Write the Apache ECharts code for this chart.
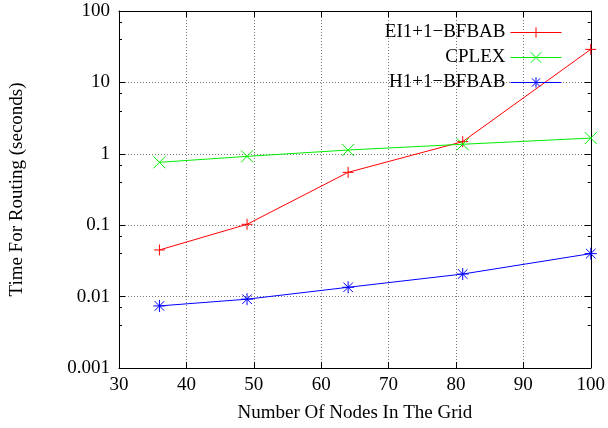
<!DOCTYPE html>
<html><head><meta charset="utf-8">
<script src="https://cdn.jsdelivr.net/npm/echarts@6/dist/echarts.min.js"></script>
<style>html,body{margin:0;padding:0;background:#fff}#c{width:608px;height:428px}</style>
</head><body><div id="c"></div>
<script>
const nodes = [36, 49, 64, 81, 100];
const ei11 = [0.045, 0.103, 0.55, 1.48, 29];
const cplex = [0.76, 0.92, 1.13, 1.36, 1.66];
const h11 = [0.0074, 0.0092, 0.0135, 0.0207, 0.040];
const seriesNames = ['EI1+1\u2212BFBAB', 'CPLEX', 'H1+1\u2212BFBAB'];
const xLabel = 'Number Of Nodes In The Grid';
const yLabel = 'Time For Routing (seconds)';

const FONT = 'Liberation Serif';
const FS = 19;
const plus = 'path://M0,5L10,5M5,0L5,10';
const cross = 'path://M0,0L10,10M10,0L0,10';
const star = 'path://M0,5L10,5M5,0L5,10M1,1L9,9M9,1L1,9';

function mk(name, vals, color, sym, size) {
  return {
    name, type: 'line', data: nodes.map((x, i) => [x, vals[i]]),
    symbol: sym, symbolSize: size, showSymbol: true,
    lineStyle: { color, width: 1 },
    itemStyle: { color: 'rgba(0,0,0,0)', borderColor: color, borderWidth: 1 },
    emphasis: { disabled: true }, animation: false
  };
}
const tickStyle = { color: '#000', width: 1 };
const chart = echarts.init(document.getElementById('c'));
chart.setOption({
  animation: false,
  grid: { left: 118, right: 16, top: 11, bottom: 60 },
  legend: {
    orient: 'vertical', right: 41, top: 18, align: 'right',
    itemWidth: 51, itemHeight: 13, itemGap: 6,
    itemStyle: { borderWidth: 1 }, lineStyle: { width: 1 },
    textStyle: { fontFamily: FONT, fontSize: FS, color: '#000' },
    data: seriesNames
  },
  xAxis: [{
    type: 'value', min: 30, max: 100, interval: 10,
    name: xLabel, nameLocation: 'middle', nameGap: 36,
    nameTextStyle: { fontFamily: FONT, fontSize: FS, color: '#000' },
    axisLine: { show: true, lineStyle: tickStyle },
    axisTick: { inside: true, length: 6, lineStyle: tickStyle },
    axisLabel: { fontFamily: FONT, fontSize: FS, color: '#000', margin: 8 },
    splitLine: { show: true, lineStyle: { type: [1, 2], color: '#777', width: 1 } }
  }, {
    type: 'value', min: 30, max: 100, interval: 10, position: 'top',
    axisLine: { show: true, lineStyle: tickStyle },
    axisTick: { inside: true, length: 6, lineStyle: tickStyle },
    axisLabel: { show: false }, splitLine: { show: false }
  }],
  yAxis: [{
    type: 'log', logBase: 10, min: 0.001, max: 100,
    name: yLabel, nameLocation: 'middle', nameGap: 92,
    nameTextStyle: { fontFamily: FONT, fontSize: FS, color: '#000' },
    axisLine: { show: true, lineStyle: tickStyle },
    axisTick: { inside: true, length: 6, lineStyle: tickStyle },
    minorTick: { show: true, splitNumber: 3, length: 3, lineStyle: tickStyle },
    axisLabel: { fontFamily: FONT, fontSize: FS, color: '#000', margin: 9,
      formatter: v => String(+v.toPrecision(3)) },
    splitLine: { show: true, lineStyle: { type: [1, 2], color: '#777', width: 1 } }
  }, {
    type: 'log', logBase: 10, min: 0.001, max: 100, position: 'right',
    axisLine: { show: true, lineStyle: tickStyle },
    axisTick: { inside: true, length: 6, lineStyle: tickStyle },
    minorTick: { show: true, splitNumber: 3, length: 3, lineStyle: tickStyle },
    axisLabel: { show: false }, splitLine: { show: false }
  }],
  series: [
    mk(seriesNames[0], ei11, '#ff0000', plus, 11),
    mk(seriesNames[1], cplex, '#00ee00', cross, 12),
    mk(seriesNames[2], h11, '#0000ff', star, 12)
  ]
});
</script></body></html>
